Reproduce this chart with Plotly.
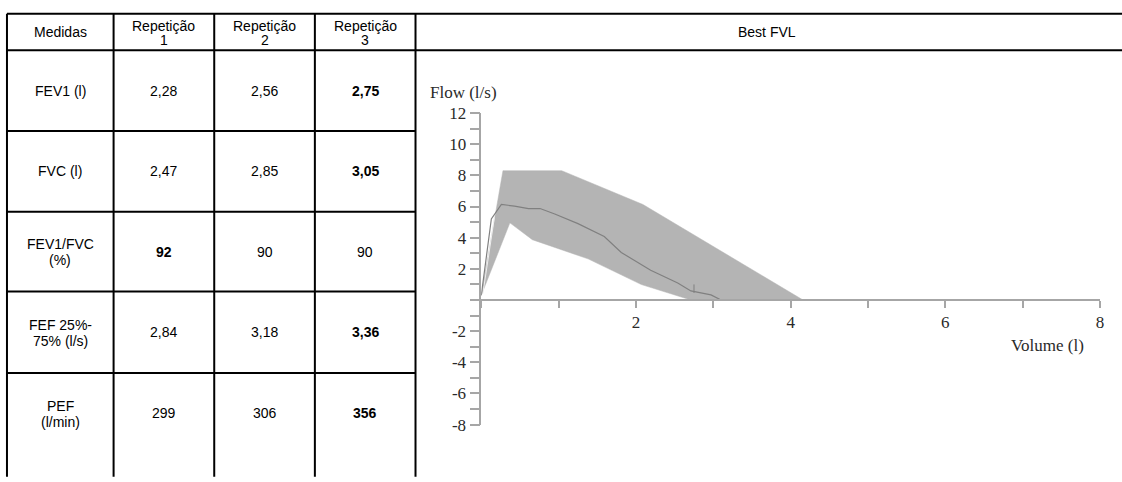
import plotly.graph_objects as go

# ---------------- data ----------------
headers = ["Medidas", "Repetição", "Repetição", "Repetição", "Best FVL"]
header_sub = ["", "1", "2", "3", ""]
measures = [["FEV1 (l)"], ["FVC (l)"], ["FEV1/FVC", "(%)"], ["FEF 25%-", "75% (l/s)"], ["PEF", "(l/min)"]]
rep1 = [2.28, 2.47, 92, 2.84, 299]
rep2 = [2.56, 2.85, 90, 3.18, 306]
rep3 = [2.75, 3.05, 90, 3.36, 356]
best_rep = [3, 3, 1, 3, 3]

# flow-volume envelope (upper / lower) and best curve
upper_x = [0.0, 0.28, 1.04, 2.09, 4.16]
upper_y = [0.3, 8.3, 8.3, 6.13, 0.0]
lower_x = [0.0, 0.37, 0.66, 1.38, 2.07, 2.71, 4.16]
lower_y = [0.3, 4.95, 3.87, 2.64, 0.99, 0.0, 0.0]
curve_x = [0.0, 0.13, 0.26, 0.43, 0.61, 0.76, 0.95, 1.25, 1.59, 1.81, 2.19, 2.54, 2.71, 2.97, 3.10]
curve_y = [0.3, 5.2, 6.13, 6.03, 5.87, 5.87, 5.52, 4.9, 4.07, 3.05, 1.91, 1.09, 0.58, 0.33, 0.0]
inner_x = [0.02, 0.17]
inner_y = [0.4, 5.3]
fev1_mark_x = [2.75, 2.75]
fev1_mark_y = [0.45, 1.0]

y_ticks = [-8, -6, -4, -2, 0, 2, 4, 6, 8, 10, 12]
x_ticks = [0, 2, 4, 6, 8]

# ---------------- layout helpers ----------------
W, H = 1122, 482
def px(x):
    return x / W
def py(y):
    return 1 - y / H

col_x = [7, 114, 215, 316, 417, W]
row_y = [5, 43, 127, 211, 294, 379, H]

def fmt(v):
    if float(v).is_integer():
        return str(int(v))
    return f"{v:.2f}".replace(".", ",")

fig = go.Figure()

poly_x = upper_x + lower_x[::-1]
poly_y = upper_y + lower_y[::-1]
fig.add_trace(go.Scatter(x=poly_x, y=poly_y, fill="toself", fillcolor="#b4b4b4",
                         line=dict(color="#b4b4b4", width=0.5), mode="lines",
                         hoverinfo="skip", showlegend=False))
fig.add_trace(go.Scatter(x=inner_x, y=inner_y, mode="lines",
                         line=dict(color="#eeeeee", width=1), showlegend=False))
fig.add_trace(go.Scatter(x=curve_x, y=curve_y, mode="lines",
                         line=dict(color="#808080", width=1.2), showlegend=False))
fig.add_trace(go.Scatter(x=fev1_mark_x, y=fev1_mark_y, mode="lines",
                         line=dict(color="#808080", width=1), showlegend=False))

shapes = []
lw = 2
for cx in col_x[:-1]:
    shapes.append(dict(type="line", xref="paper", yref="paper",
                       x0=px(cx), x1=px(cx), y0=py(row_y[0]), y1=py(H + 5),
                       line=dict(color="black", width=lw)))
for i, ry in enumerate(row_y[:-1]):
    x_end = W + 5 if i < 2 else col_x[4]
    shapes.append(dict(type="line", xref="paper", yref="paper",
                       x0=px(col_x[0]), x1=px(x_end), y0=py(ry), y1=py(ry),
                       line=dict(color="black", width=lw)))

annotations = []
tfont = dict(family="Liberation Sans, Arial", size=14, color="black")
tfont_b = dict(family="Liberation Sans, Arial", size=14, color="black", weight="bold")

def add_text(text, cx, cy, font):
    annotations.append(dict(text=text, xref="paper", yref="paper", x=px(cx), y=py(cy),
                            xanchor="center", yanchor="middle", showarrow=False, font=font))

for j in range(5):
    cx = (col_x[j] + col_x[j + 1]) / 2
    if header_sub[j]:
        add_text(headers[j], cx, 18, tfont)
        add_text(header_sub[j], cx, 32, tfont)
    else:
        add_text(headers[j], cx, 24, tfont)

for i in range(5):
    cy = (row_y[i + 1] + row_y[i + 2]) / 2 if i < 4 else (row_y[5] + row_y[5] + 84) / 2
    lines = measures[i]
    if len(lines) == 1:
        add_text(lines[0], (col_x[0] + col_x[1]) / 2, cy, tfont)
    else:
        add_text(lines[0], (col_x[0] + col_x[1]) / 2, cy - 8, tfont)
        add_text(lines[1], (col_x[0] + col_x[1]) / 2, cy + 9, tfont)
    for j, rep in enumerate([rep1, rep2, rep3]):
        f = tfont_b if best_rep[i] == j + 1 else tfont
        add_text(fmt(rep[i]), (col_x[j + 1] + col_x[j + 2]) / 2, cy, f)

x0_px, x8_px = 483, 1104
ytop_px, ybot_px = 108.3, 432.7
yzero_px = 302.7

sfont = dict(family="Liberation Serif, Times New Roman, serif", size=17, color="#2a2a2a")
annotations.append(dict(text="Flow (l/s)", xref="paper", yref="paper", x=px(430), y=py(87),
                        xanchor="left", yanchor="middle", showarrow=False, font=sfont))
annotations.append(dict(text="Volume (l)", xref="paper", yref="paper", x=px(1090), y=py(350),
                        xanchor="right", yanchor="middle", showarrow=False, font=sfont))

axis_col = "#a6a6a6"
fig.update_layout(
    width=W, height=H, margin=dict(l=0, r=0, t=0, b=0),
    paper_bgcolor="white", plot_bgcolor="white",
    shapes=shapes, annotations=annotations, showlegend=False,
    xaxis=dict(domain=[px(x0_px), px(x8_px)], range=[0, 8], anchor="free", position=py(yzero_px),
               showgrid=False, zeroline=False, showline=True, linecolor=axis_col, linewidth=1.5,
               tickmode="array", tickvals=x_ticks, ticktext=["" if v == 0 else str(v) for v in x_ticks],
               ticks="outside", ticklen=7, tickcolor=axis_col, tickwidth=1.5,
               minor=dict(tickvals=[1, 3, 5, 7], ticks="outside", ticklen=7, tickcolor=axis_col, tickwidth=1.5),
               tickfont=sfont),
    yaxis=dict(domain=[py(ybot_px), py(ytop_px)], range=[-8, 12], anchor="x",
               showgrid=False, zeroline=False, showline=True, linecolor=axis_col, linewidth=1.5,
               tickmode="array", tickvals=y_ticks, ticktext=["" if v == 0 else str(v) for v in y_ticks],
               ticks="outside", ticklen=10, tickcolor=axis_col, tickwidth=1.5,
               minor=dict(tickvals=[v for v in range(-7, 12, 2)], ticks="outside", ticklen=10,
                          tickcolor=axis_col, tickwidth=1.5),
               tickfont=sfont),
)

fig.write_html("out.html")
